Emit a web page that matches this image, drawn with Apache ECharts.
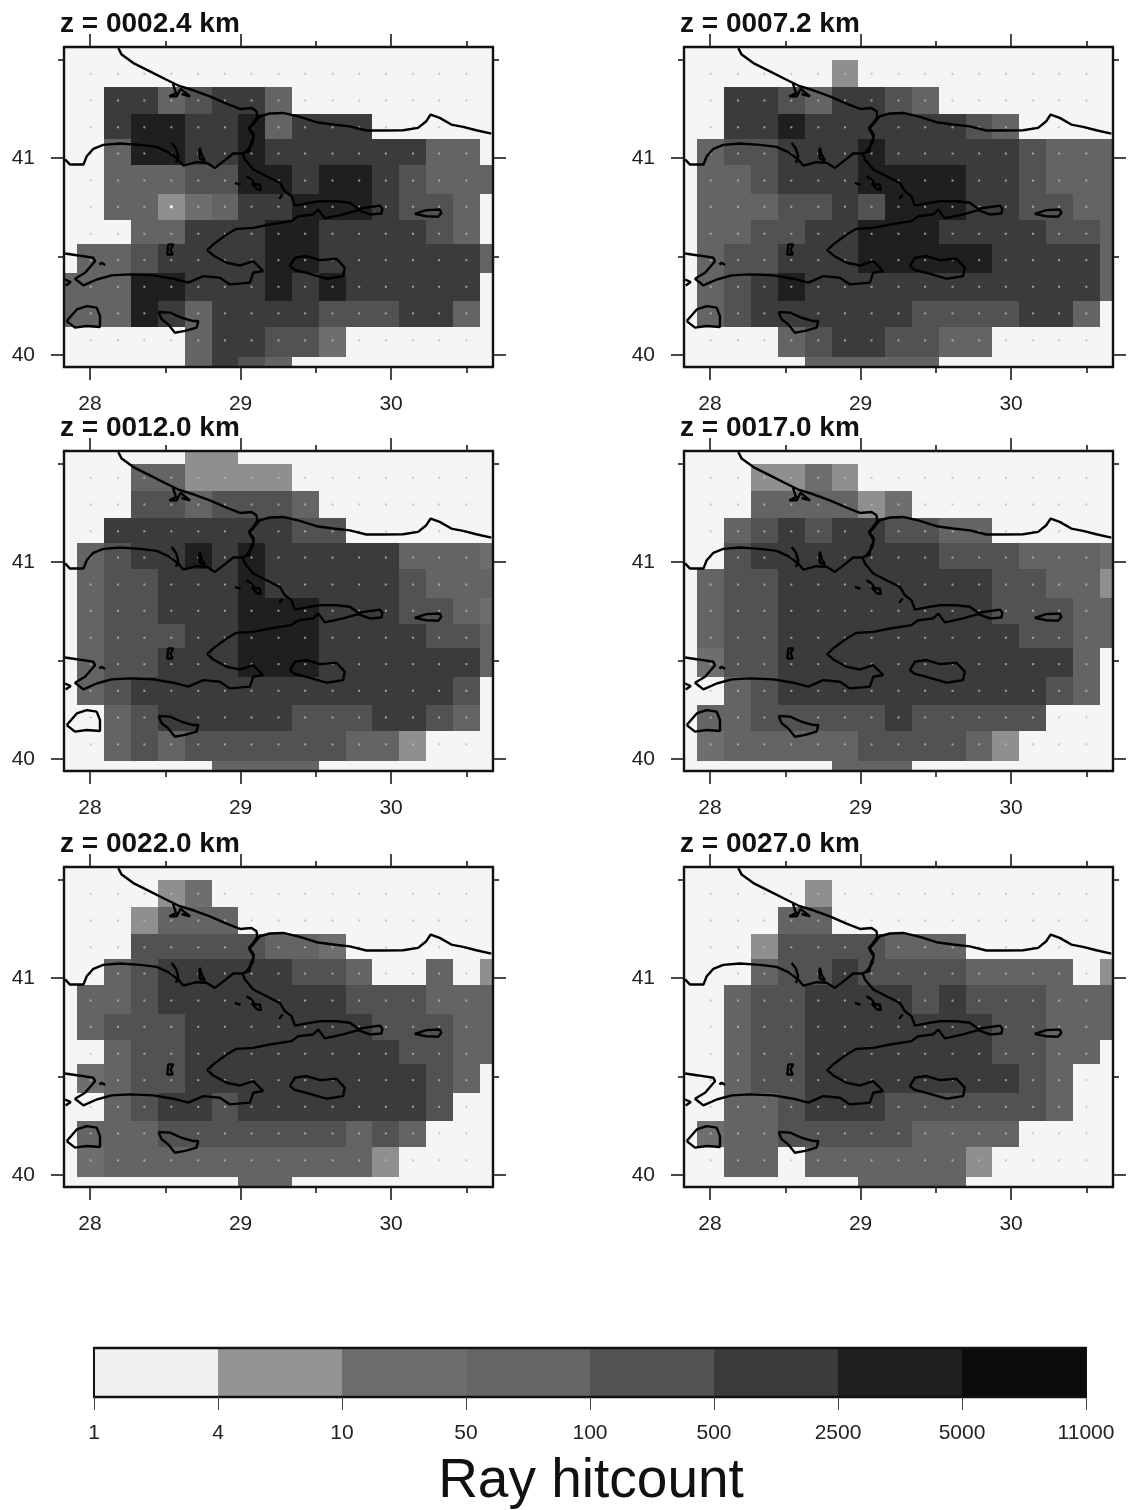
<!DOCTYPE html>
<html><head><meta charset="utf-8">
<style>html,body{margin:0;padding:0;background:#fff}#c{width:1128px;height:1510px;filter:blur(0.55px)}</style>
<script src="https://cdn.jsdelivr.net/npm/echarts@6/dist/echarts.min.js"></script>
</head><body><div id="c"></div>
<script>
// cell edges of the tomography grid (degrees)
const lonEdges = [27.827,27.916,28.095,28.272,28.449,28.631,28.808,28.985,29.162,29.341,29.520,29.699,29.876,30.055,30.232,30.409,30.588,30.677];
const latEdges = [41.5625,41.495,41.360,41.223,41.094,40.966,40.819,40.684,40.564,40.414,40.275,40.144,39.992,39.939];
// grid nodes
const lonNodes = [28.004,28.186,28.361,28.540,28.719,28.896,29.073,29.252,29.429,29.611,29.788,29.965,30.146,30.319,30.500];
const latNodes = [41.427,41.291,41.155,41.022,40.885,40.752,40.615,40.481,40.346,40.211,40.074];
// hitcount class per cell, one string per latitude row (north to south)
const hits002 = ["00000000000000000","00000000000000000","00553455300000000","00566556355500000","00366556555555330","00333446656654333","00331235566654430","00033555665555430","03345555665555553","33366555656555550","33365355554445530","00000355442000000","00000354300000000"];
const hits007 = ["00000000000000000","00000010000000000","00554355430000000","00556555555430000","03445556555554333","03345556666554333","03334454666554433","03344556665555443","03445556666655553","03456555555555553","03455555544445530","00003455443300000","00000333330000000"];
const hits012 = ["00000110000000000","00033111100000000","00044344430000000","00555555544000000","03455656555553332","03445556555554333","03445556665554432","03444556665555443","03445556665555553","03455555555555540","00345555544455430","00343444444331000","00000033330000000"];
const hits017 = ["00000000000000000","00011210000000000","00033331200000000","00345455443300000","00455555554443332","03445555555544331","03445555555544433","03445555555554433","02445555555555530","00345555555555430","03344444544444000","02333334444310000","00000033300000000"];
const hits022 = ["00000000000000000","00001200000000000","00013330000000000","00044444332000000","00345555544300301","03345555555444333","03444555555544433","00344555555554433","02344555555555430","00345545555555400","03334444444343000","02333333333310000","00000003300000000"];
const hits027 = ["00000000000000000","00000100000000000","00003300000000000","00014444333000000","00034454444333301","00344555545444333","00344555555544333","00344555555544330","00344555555554300","00334555444444300","02334444433330000","00330333333100000","00000003333000000"];
const panelTitles = ["z = 0002.4 km","z = 0007.2 km","z = 0012.0 km","z = 0017.0 km","z = 0022.0 km","z = 0027.0 km"];
const levelColors = ["#f5f5f5","#8f8f8f","#6e6e6e","#646464","#525252","#3b3b3b","#1f1f1f","#0c0c0c"];
// colour scale
const barLabels = ["1","4","10","50","100","500","2500","5000","11000"];
const barColors = ["#f0f0f0","#949494","#6e6e6e","#666666","#525252","#3b3b3b","#1e1e1e","#0c0c0c"];
// coastlines and lakes [lon, lat]
const coastWest = [[28.188,41.557],[28.210,41.524],[28.288,41.481],[28.398,41.439],[28.498,41.400],[28.586,41.367],[28.686,41.343],[28.796,41.312],[28.907,41.275],[28.996,41.248],[29.073,41.253],[29.106,41.236],[29.111,41.208],[29.084,41.177],[29.055,41.152],[29.073,41.127],[29.088,41.106],[29.069,41.076],[29.058,41.034],[29.007,41.022],[28.951,41.022],[28.907,40.995],[28.830,40.949],[28.774,40.975],[28.708,40.978],[28.619,40.961],[28.586,40.992],[28.520,41.029],[28.442,41.056],[28.332,41.066],[28.199,41.073],[28.088,41.066],[28.022,41.046],[27.978,41.008],[27.956,40.966],[27.867,40.966],[27.834,40.992]];
const coastEast = [[30.666,41.123],[30.566,41.140],[30.478,41.157],[30.400,41.169],[30.323,41.203],[30.263,41.220],[30.234,41.186],[30.179,41.152],[30.080,41.140],[29.947,41.139],[29.836,41.139],[29.726,41.160],[29.615,41.169],[29.504,41.181],[29.394,41.208],[29.283,41.228],[29.195,41.225],[29.128,41.211],[29.088,41.174],[29.062,41.147],[29.088,41.118],[29.080,41.076],[29.040,41.034],[29.013,41.022],[29.029,40.992],[29.084,40.941],[29.173,40.907],[29.261,40.873],[29.294,40.831],[29.338,40.806],[29.361,40.758],[29.438,40.769],[29.527,40.780],[29.637,40.780],[29.726,40.772],[29.781,40.742],[29.925,40.758],[29.942,40.742],[29.936,40.718],[29.858,40.713],[29.781,40.735],[29.681,40.713],[29.560,40.693],[29.516,40.738],[29.482,40.713],[29.383,40.704],[29.338,40.679],[29.195,40.662],[29.084,40.645],[28.973,40.640],[28.907,40.611],[28.819,40.561],[28.779,40.532],[28.819,40.505],[28.907,40.468],[28.996,40.454],[29.084,40.476],[29.150,40.426],[29.084,40.417],[29.062,40.367],[28.929,40.358],[28.863,40.392],[28.752,40.400],[28.653,40.367],[28.553,40.387],[28.420,40.404],[28.265,40.409],[28.144,40.404],[28.044,40.383],[27.956,40.353],[27.900,40.387],[27.967,40.417],[28.033,40.476],[28.022,40.493],[27.923,40.505],[27.834,40.515]];
const gallipoliTip = [[27.834,40.383],[27.872,40.370],[27.838,40.353]];
const lakeIznik = [[29.327,40.451],[29.361,40.493],[29.438,40.502],[29.527,40.481],[29.637,40.488],[29.692,40.443],[29.681,40.400],[29.571,40.387],[29.438,40.417],[29.361,40.431],[29.327,40.451]];
const lakeSapanca = [[30.157,40.716],[30.234,40.735],[30.323,40.738],[30.334,40.721],[30.312,40.701],[30.234,40.704],[30.157,40.716]];
const lakeUluabat = [[28.454,40.218],[28.531,40.215],[28.608,40.189],[28.686,40.172],[28.719,40.172],[28.708,40.139],[28.631,40.122],[28.564,40.113],[28.520,40.155],[28.476,40.181],[28.454,40.218]];
const lakeManyas = [[27.845,40.172],[27.912,40.231],[27.978,40.248],[28.044,40.240],[28.066,40.198],[28.066,40.142],[27.978,40.147],[27.900,40.139],[27.845,40.172]];
const marmaraIsland = [[28.520,40.561],[28.553,40.561],[28.535,40.535],[28.549,40.510],[28.513,40.510],[28.520,40.561]];
const kapidagTip = [[28.062,40.459],[28.077,40.468],[28.100,40.456]];
const lakeTerkos = [[28.549,41.380],[28.571,41.329],[28.527,41.312],[28.575,41.312],[28.602,41.350],[28.664,41.312],[28.608,41.324]];
const kucukcekmece = [[28.542,41.076],[28.571,41.046],[28.586,41.008],[28.571,40.975]];
const buyukcekmece = [[28.730,41.051],[28.741,41.017],[28.763,40.988],[28.730,40.995],[28.726,41.025],[28.730,41.051]];
const princesIslands = [[29.040,40.907],[29.073,40.890],[29.095,40.865],[29.128,40.865],[29.135,40.836],[29.111,40.840],[29.073,40.870]];
const islet1 = [[28.962,40.873],[29.000,40.863]];
const islet2 = [[29.257,40.792],[29.279,40.814]];

const allHits = [hits002,hits007,hits012,hits017,hits022,hits027];
const coastParts = [coastWest,coastEast,gallipoliTip,lakeIznik,lakeSapanca,lakeUluabat,lakeManyas,marmaraIsland,kapidagTip,lakeTerkos,kucukcekmece,buyukcekmece,princesIslands,islet1,islet2];
const brightNode = [28.540,40.752];

const FONT = '"Liberation Sans", Arial, sans-serif';
const xRange = {min:27.827, max:30.677}, yRange = {min:39.939, max:41.5625};
const lefts = [64,684], tops = [47,451,867], W = 429, H = 320;
const grid=[], xAxis=[], yAxis=[], series=[], title=[];
const tickStyle = {color:'#1a1a1a', width:1.6};

function addAxes(g, xT, yT, len, labels, line){
  const base = {type:'value', gridIndex:g, splitLine:{show:false}, z:20};
  ['bottom','top'].forEach(pos=>{
    xAxis.push({...base, ...xRange, position:pos,
      axisLine:{show:line, onZero:false, lineStyle:{color:'#111',width:2.4}},
      axisTick:{show:true, customValues:xT, length:len, lineStyle:tickStyle},
      axisLabel:{show:labels&&pos==='bottom', customValues:xT, margin:27, fontSize:21, color:'#222', fontFamily:FONT}});
  });
  ['left','right'].forEach(pos=>{
    yAxis.push({...base, ...yRange, position:pos,
      axisLine:{show:line, onZero:false, lineStyle:{color:'#111',width:2.4}},
      axisTick:{show:true, customValues:yT, length:len, lineStyle:tickStyle},
      axisLabel:{show:labels&&pos==='left', customValues:yT, margin:29, fontSize:21, color:'#222', fontFamily:FONT}});
  });
}

allHits.forEach((rows,p)=>{
  const left = lefts[p%2], top = tops[Math.floor(p/2)];
  const g = grid.length;
  grid.push({left, top, width:W, height:H, show:true, backgroundColor:'#f5f5f5', borderWidth:0});
  const xi = xAxis.length, yi = yAxis.length;
  addAxes(g,[28,29,30],[40,41],13,true,true);
  grid.push({left, top, width:W, height:H, show:false});
  addAxes(g+1,[28.5,29.5,30.5],[40.5,41.5],6,false,false);
  title.push({text:panelTitles[p], left:left-4, top:top-37, padding:0,
    textStyle:{fontFamily:FONT, fontWeight:'bold', fontSize:28, color:'#111'}});

  const cells=[];
  rows.forEach((r,j)=>{ for(let i=0;i<r.length;i++){ const v=+r[i]; if(v>0) cells.push([i,j,v]); } });
  series.push({type:'custom', xAxisIndex:xi, yAxisIndex:yi, z:2, silent:true, data:cells,
    encode:{x:[],y:[]},
    renderItem:(params,api)=>{
      const i=api.value(0), j=api.value(1), v=api.value(2);
      const a=api.coord([lonEdges[i],latEdges[j]]), b=api.coord([lonEdges[i+1],latEdges[j+1]]);
      const x0=Math.round(a[0]), y0=Math.round(a[1]), x1=Math.round(b[0]), y1=Math.round(b[1]);
      return {type:'rect', shape:{x:x0,y:y0,width:x1-x0,height:y1-y0}, style:{fill:levelColors[v]}};
    }});
  const nodes=[];
  latNodes.forEach(la=>lonNodes.forEach(lo=>nodes.push([lo,la])));
  series.push({type:'scatter', xAxisIndex:xi, yAxisIndex:yi, z:3, silent:true, symbol:'rect', symbolSize:2,
    itemStyle:{color:'#bcbcbc'}, data:nodes});
  if(p===0) series.push({type:'scatter', xAxisIndex:xi, yAxisIndex:yi, z:4, silent:true, symbol:'rect', symbolSize:3,
    itemStyle:{color:'#ffffff'}, data:[brightNode]});
  const coastData=[];
  coastParts.forEach((part,k)=>{ if(k) coastData.push(['-','-']); part.forEach(pt=>coastData.push(pt)); });
  series.push({type:'line', xAxisIndex:xi, yAxisIndex:yi, z:5, silent:true, showSymbol:false, connectNulls:false,
    lineStyle:{color:'#000',width:2.4}, data:coastData});
});

// colour bar
const gb = grid.length;
grid.push({left:94, top:1348, width:992, height:49, show:false});
const bxi = xAxis.length, byi = yAxis.length;
const barBase = {type:'value', gridIndex:gb, min:0, max:barColors.length, interval:1, splitLine:{show:false}, z:20};
xAxis.push({...barBase, position:'bottom',
  axisLine:{show:true, onZero:false, lineStyle:{color:'#111',width:2.4}},
  axisTick:{show:true, length:13, lineStyle:{color:'#444',width:1}},
  axisLabel:{show:true, margin:26, fontSize:21, color:'#222', fontFamily:FONT, formatter:v=>barLabels[v]}});
xAxis.push({...barBase, position:'top',
  axisLine:{show:true, onZero:false, lineStyle:{color:'#111',width:2.4}}, axisTick:{show:false}, axisLabel:{show:false}});
yAxis.push({type:'value', gridIndex:gb, min:0, max:1, position:'left', splitLine:{show:false}, z:20,
  axisLine:{show:true, onZero:false, lineStyle:{color:'#111',width:2}}, axisTick:{show:false}, axisLabel:{show:false}});
yAxis.push({type:'value', gridIndex:gb, min:0, max:1, position:'right', splitLine:{show:false}, z:20,
  axisLine:{show:true, onZero:false, lineStyle:{color:'#111',width:2}}, axisTick:{show:false}, axisLabel:{show:false}});
series.push({type:'custom', xAxisIndex:bxi, yAxisIndex:byi, z:2, silent:true,
  data:barColors.map((c,i)=>[i,i+1]), encode:{x:[0,1]},
  renderItem:(params,api)=>{
    const a=api.coord([api.value(0),1]), b=api.coord([api.value(1),0]);
    return {type:'rect', shape:{x:a[0],y:a[1],width:b[0]-a[0],height:b[1]-a[1]}, style:{fill:barColors[api.value(0)]}};
  }});
title.push({text:'Ray hitcount', left:591, top:1454, textAlign:'center', padding:0,
  textStyle:{fontFamily:FONT, fontWeight:'normal', fontSize:55, color:'#111'}});

const chart = echarts.init(document.getElementById('c'), null, {renderer:'canvas', width:1128, height:1510});
chart.setOption({animation:false, backgroundColor:'#ffffff', title, grid, xAxis, yAxis, series, tooltip:{show:false}});
</script></body></html>
